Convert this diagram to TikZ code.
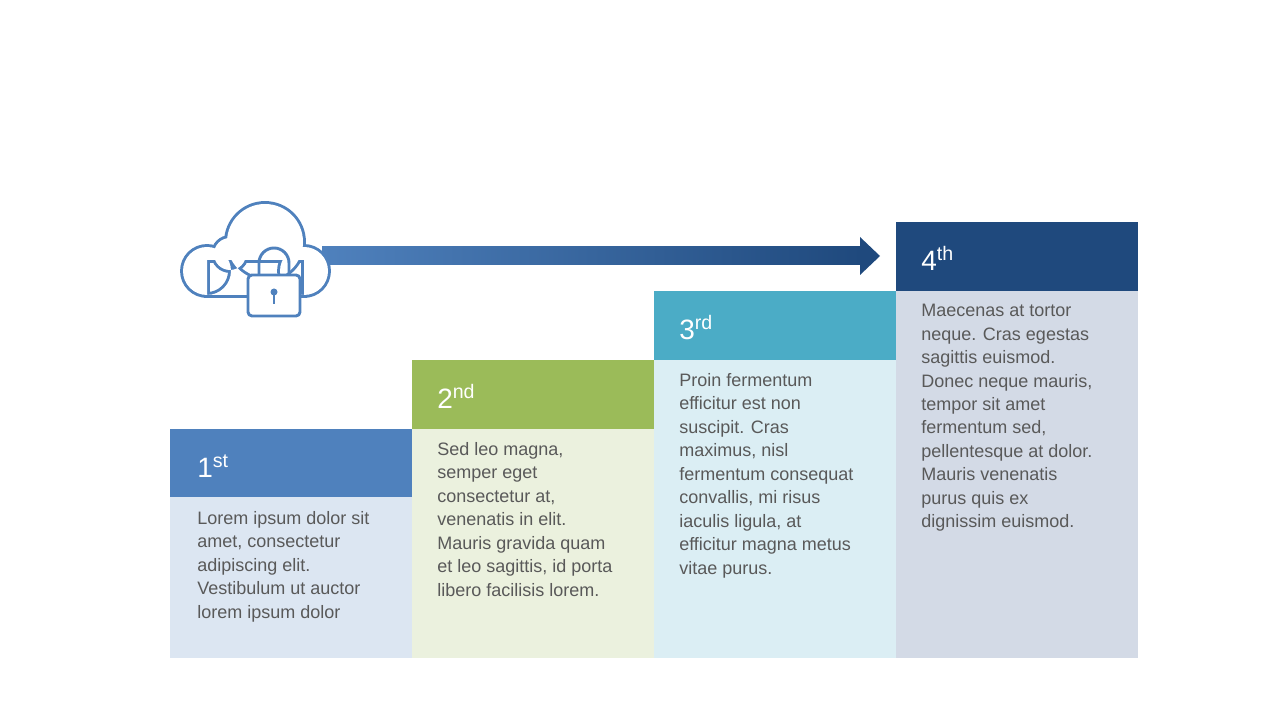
\documentclass[tikz,border=0pt]{standalone}
\usepackage{fontspec}
\setmainfont{Liberation Sans}
\usetikzlibrary{positioning}
\definecolor{blueA}{HTML}{4F81BD}\definecolor{blueAl}{HTML}{DCE6F2}
\definecolor{greenB}{HTML}{9BBB59}\definecolor{greenBl}{HTML}{EBF1DE}
\definecolor{cyanC}{HTML}{4BACC6}\definecolor{cyanCl}{HTML}{DBEEF4}
\definecolor{navyD}{HTML}{1F497D}\definecolor{navyDl}{HTML}{D3DAE6}
\definecolor{txtgrey}{HTML}{595959}
\tikzset{
  steptitle/.style={anchor=base west,inner sep=0pt,text=white,font=\fontsize{21}{24}\selectfont},
  steptext/.style={anchor=north west,inner sep=0pt,text=txtgrey,align=left,font=\fontsize{13.5}{17.6}\selectfont},
  icon/.style={draw=blueA,line width=2.2pt,line join=round}
}
\begin{document}
\begin{tikzpicture}[x=0.75pt,y=0.75pt]
    \useasboundingbox (0,0) rectangle (1280,720);

    % bodies and headers
    \fill[blueAl] (170,62) rectangle (412,223);
    \fill[blueA] (170,223) rectangle (412,291);
    \fill[greenBl] (412,62) rectangle (654,291);
    \fill[greenB] (412,291) rectangle (654,360);
    \fill[cyanCl] (654,62) rectangle (896,360);
    \fill[cyanC] (654,360) rectangle (896,429);
    \fill[navyDl] (896,62) rectangle (1138,429);
    \fill[navyD] (896,429) rectangle (1138,498);

    % titles
    \node[steptitle] (t1) at (197,242) {1\textsuperscript{st}};
    \node[steptitle] (t2) at (437,311) {2\textsuperscript{nd}};
    \node[steptitle] (t3) at (679,380) {3\textsuperscript{rd}};
    \node[steptitle] (t4) at (921,449) {4\textsuperscript{th}};

    % texts
    \node[steptext] (b1) at (197,209) {Lorem ipsum dolor sit\\amet, consectetur\\adipiscing elit.\\Vestibulum ut auctor\\lorem ipsum dolor};
    \node[steptext] (b2) at (437,278) {Sed leo magna,\\semper eget\\consectetur at,\\venenatis in elit.\\Mauris gravida quam\\et leo sagittis, id porta\\libero facilisis lorem.};
    \node[steptext] (b3) at (679,347) {Proin fermentum\\efficitur est non\\suscipit. Cras\\maximus, nisl\\fermentum consequat\\convallis, mi risus\\iaculis ligula, at\\efficitur magna metus\\vitae purus.};
    \node[steptext] (b4) at (921,416) {Maecenas at tortor\\neque. Cras egestas\\sagittis euismod.\\Donec neque mauris,\\tempor sit amet\\fermentum sed,\\pellentesque at dolor.\\Mauris venenatis\\purus quis ex\\dignissim euismod.};

    % arrow
    \shade[left color=blueA,right color=navyD] (322,455) rectangle (861,473);
    \fill[navyD] (860,483) -- (880,464) -- (860,445) -- cycle;

    % cloud
    \begin{scope}[blueA,line width=4.4pt]
        \draw (207,449) circle (24) (265,478) circle (38) (304,449) circle (24)
              (230,466) circle (16);
        \draw (207,425) rectangle (304,460);
    \end{scope}
    \fill[white] (207,449) circle (24) (265,478) circle (38) (304,449) circle (24)
                 (230,466) circle (16) (207,425) rectangle (304,460);

    % lock
    \draw[icon] (259,445) -- (259,457) arc (180:0:15) -- (289,445);
    \draw[icon,fill=white,rounded corners=3pt] (248,404) rectangle (300,445);
    \draw[icon,line width=1.6pt] (274,416) -- (274,427);
    \fill[blueA] (274,428) circle (3.5);
\end{tikzpicture}
\end{document}
